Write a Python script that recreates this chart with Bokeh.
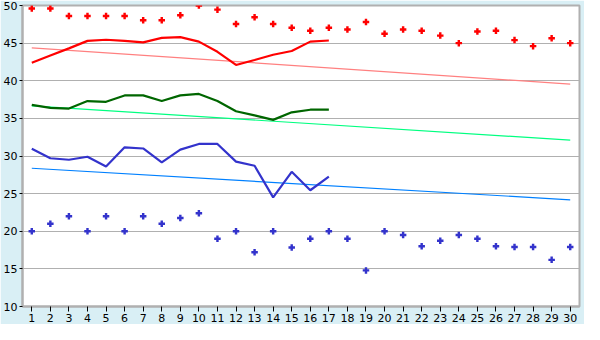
from bokeh.plotting import figure
from bokeh.models import Range1d, FixedTicker
from bokeh.embed import file_html
from bokeh.resources import INLINE

# ---- data ----
days = list(range(1, 31))
high_pts = [49.6, 49.6, 48.6, 48.6, 48.6, 48.6, 48.05, 48.05, 48.7, 50.0,
            49.45, 47.55, 48.45, 47.55, 47.05, 46.65, 47.05, 46.8, 47.8, 46.25,
            46.8, 46.65, 46.0, 45.0, 46.55, 46.65, 45.4, 44.6, 45.65, 45.0]
low_pts = [20.0, 21.0, 22.0, 20.0, 22.0, 20.0, 22.0, 21.0, 21.75, 22.4,
           19.0, 20.0, 17.2, 20.0, 17.85, 19.0, 20.0, 19.0, 14.8, 20.0,
           19.5, 18.0, 18.75, 19.5, 19.0, 18.0, 17.9, 17.9, 16.2, 17.9]

line_days = list(range(1, 18))
red_line = [42.4, 43.35, 44.3, 45.3, 45.45, 45.3, 45.1, 45.7, 45.8, 45.2,
            43.85, 42.1, 42.75, 43.45, 43.95, 45.2, 45.35]
green_line = [36.8, 36.4, 36.3, 37.3, 37.2, 38.05, 38.05, 37.3, 38.05, 38.25,
              37.3, 35.95, 35.4, 34.8, 35.8, 36.15, 36.15]
blue_line = [30.95, 29.7, 29.5, 29.9, 28.6, 31.15, 31.0, 29.15, 30.85, 31.6,
             31.6, 29.25, 28.7, 24.5, 27.9, 25.45, 27.25]

trend_days = [1, 30]
red_trend = [44.37, 39.55]
green_trend = [36.67, 32.1]
blue_trend = [28.37, 24.18]

y_ticks = [10, 15, 20, 25, 30, 35, 40, 45, 50]

# ---- figure ----
BG = "#d9eff5"
GRID = "#b0b0b0"

p = figure(width=584, height=324, output_backend="svg", toolbar_location=None,
           x_range=Range1d(0.5, 30.5), y_range=Range1d(10, 50),
           min_border_left=20, min_border_right=5, min_border_top=5,
           min_border_bottom=16)
p.background_fill_color = "white"
p.border_fill_color = BG
p.outline_line_color = GRID
p.outline_line_width = 2

p.xgrid.grid_line_color = None
p.ygrid.ticker = FixedTicker(ticks=y_ticks)
p.ygrid.grid_line_color = GRID
p.ygrid.grid_line_width = 1

for ax in (p.xaxis, p.yaxis):
    ax.axis_line_color = GRID
    ax.axis_line_width = 2
    ax.major_tick_line_color = "black"
    ax.minor_tick_line_color = None
    ax.major_tick_in = 0
    ax.major_label_text_font = "DejaVu Sans"
    ax.major_label_text_font_size = "11px"
    ax.major_label_text_color = "black"
    ax.major_label_standoff = 2

p.xaxis.ticker = FixedTicker(ticks=days)
p.xaxis.major_tick_out = 5
p.yaxis.ticker = FixedTicker(ticks=y_ticks)
p.yaxis.major_tick_out = 3

# trend lines
p.line(trend_days, red_trend, line_color="#ff8080", line_width=1.2)
p.line(trend_days, green_trend, line_color="#00ff80", line_width=1.2)
p.line(trend_days, blue_trend, line_color="#0080ff", line_width=1.2)

# main lines
p.line(line_days, red_line, line_color="#ff0000", line_width=2.2)
p.line(line_days, green_line, line_color="#006600", line_width=2.2)
p.line(line_days, blue_line, line_color="#3333cc", line_width=2.2)

# daily points
p.scatter(days, high_pts, marker="plus", size=6.5, fill_color="#ff0000",
          line_color=None)
p.scatter(days, low_pts, marker="plus", size=6.5, fill_color="#3333cc",
          line_color=None)

open("out.html", "w").write(file_html(p, INLINE))
